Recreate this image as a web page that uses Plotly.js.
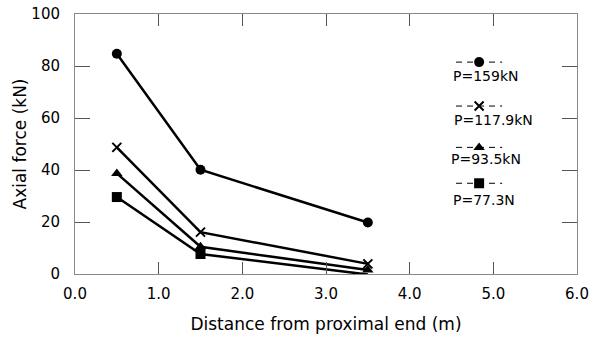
<!DOCTYPE html>
<html>
<head>
<meta charset="utf-8">
<script src="https://cdn.plot.ly/plotly-3.0.1.min.js"></script>
<style>html,body{margin:0;padding:0;background:#fff;}#chart{width:592px;height:338px;}</style>
</head>
<body>
<div id="chart"></div>
<script>
// Data
const distance = [0.5, 1.5, 3.5];
const seriesNames = ["P=159kN", "P=117.9kN", "P=93.5kN", "P=77.3N"];
const force159 = [84.7, 40.1, 19.8];
const force1179 = [48.7, 16.1, 3.9];
const force935 = [38.7, 10.5, 1.5];
const force773 = [29.6, 7.7, -0.2];
const symbols = ["circle", "x-thin", "triangle-up", "square"];

const allSeries = [force159, force1179, force935, force773];
const font = "DejaVu Sans, Liberation Sans, sans-serif";

function markerFor(sym) {
  return {symbol: sym, color: "#000", size: sym === "x-thin" ? 9 : 10,
          line: {color: "#000", width: sym === "x-thin" ? 2 : 0}};
}

const traces = [];
allSeries.forEach((vals, i) => {
  traces.push({
    x: distance, y: vals, type: "scatter", mode: "lines+markers",
    name: seriesNames[i], cliponaxis: false, showlegend: false,
    line: {color: "#000", width: 2.5},
    marker: markerFor(symbols[i])
  });
});

// Manual legend (glyph above, label below) on hidden overlay axes 0..1
const legendLineY = [0.815, 0.646, 0.487, 0.349];
const legendTextX = [0.817, 0.834, 0.819, 0.815];
const legendTextY = [0.763, 0.594, 0.441, 0.285];
const annotations = [];
seriesNames.forEach((nm, i) => {
  traces.push({
    x: [0.759, 0.805, 0.851], y: [legendLineY[i], legendLineY[i], legendLineY[i]],
    xaxis: "x2", yaxis: "y2", type: "scatter", mode: "lines", showlegend: false, hoverinfo: "skip",
    line: {color: "#000", width: 1, dash: "6px,5px"}
  });
  traces.push({
    x: [0.805], y: [legendLineY[i]], xaxis: "x2", yaxis: "y2", type: "scatter", mode: "markers",
    showlegend: false, hoverinfo: "skip", cliponaxis: false,
    marker: markerFor(symbols[i])
  });
  annotations.push({
    xref: "x2", yref: "y2", x: legendTextX[i], y: legendTextY[i], text: nm, showarrow: false,
    font: {family: font, size: 14, color: "#000"}, xanchor: "center", yanchor: "middle"
  });
});

const layout = {
  width: 592, height: 338,
  margin: {l: 75, r: 15, t: 14, b: 64},
  paper_bgcolor: "#fff", plot_bgcolor: "#fff",
  font: {family: font, size: 15, color: "#000"},
  showlegend: false,
  xaxis: {
    range: [0, 6], dtick: 1, tickformat: ".1f",
    ticks: "inside", ticklen: 12, tickcolor: "#555", tickwidth: 1,
    showline: true, linecolor: "#888", linewidth: 1, mirror: "ticks",
    showgrid: false, zeroline: false, ticklabelstandoff: 6,
    tickfont: {family: font, size: 15},
    title: {text: "Distance from proximal end (m)", font: {family: font, size: 17}, standoff: 16}
  },
  yaxis: {
    range: [0, 100], dtick: 20,
    ticks: "inside", ticklen: 15, tickcolor: "#555", tickwidth: 1,
    showline: true, linecolor: "#888", linewidth: 1, mirror: "ticks",
    showgrid: false, zeroline: false, ticklabelstandoff: 11,
    tickfont: {family: font, size: 15},
    title: {text: "Axial force (kN)", font: {family: font, size: 17}, standoff: 0}
  },
  xaxis2: {overlaying: "x", range: [0, 1], visible: false, fixedrange: true},
  yaxis2: {overlaying: "y", range: [0, 1], visible: false, fixedrange: true},
  annotations: annotations
};

Plotly.newPlot("chart", traces, layout, {staticPlot: true, displayModeBar: false});
</script>
</body>
</html>
